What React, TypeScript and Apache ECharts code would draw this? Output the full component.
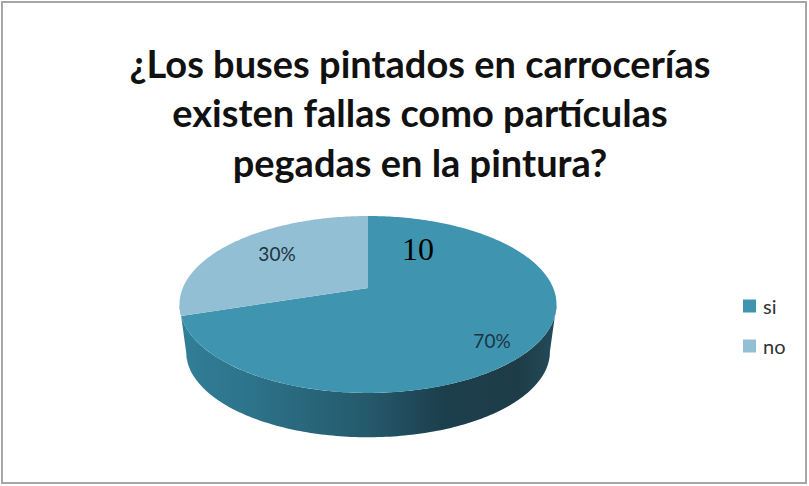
import React, { useEffect, useRef } from "react";
import * as echarts from "echarts";

const categories = ["si", "no"];
const shares = [70, 30];
const titleLines = [
  "¿Los buses pintados en carrocerías",
  "existen fallas como partículas",
  "pegadas en la pintura?",
];
const pageNumber = "10";

const FONT = "Lato, Carlito, sans-serif";
const topColors = ["#3f94b0", "#92bfd3"];
const labelPoints = [
  [492, 340],
  [277, 253],
];
const silhouette = [100.7, 259.3];

// Tilted disc: a circle seen through a mild perspective, with a thinner rim base.
const CX = 368;
const CY = 288;
const RX = 185.2;
const RY = 85.4;
const K = 0.186;
const BASE_CY = 336;
const BASE_SCALE = 0.965;

const rad = (deg: number) => (deg * Math.PI) / 180;

function project(deg: number, cy = CY, scale = 1): number[] {
  const u = Math.sin(rad(deg));
  const v = -Math.cos(rad(deg));
  const s = scale / (1 - K * v);
  return [CX + RX * u * s, cy + RY * v * s];
}

function arcPoints(from: number, to: number, cy = CY, scale = 1): number[][] {
  const steps = Math.max(2, Math.ceil(Math.abs(to - from)));
  const pts: number[][] = [];
  for (let i = 0; i <= steps; i++) {
    pts.push(project(from + ((to - from) * i) / steps, cy, scale));
  }
  return pts;
}

const rimFill = () =>
  new echarts.graphic.LinearGradient(
    180,
    0,
    556,
    0,
    [
      { offset: 0, color: "#317f98" },
      { offset: 0.2, color: "#2c7289" },
      { offset: 0.5, color: "#25596b" },
      { offset: 0.7, color: "#1c3f4d" },
      { offset: 0.9, color: "#1e3c48" },
      { offset: 1, color: "#234b5b" },
    ],
    true as any
  );

const total = shares.reduce((a, b) => a + b, 0);

function sliceRenderer(index: number) {
  const before = shares.slice(0, index).reduce((a, b) => a + b, 0);
  return (_params: any, api: any) => {
    const start = (before / total) * 360;
    const end = start + (api.value(0) / total) * 360;
    const children: any[] = [];
    const rimFrom = Math.max(start, silhouette[0]);
    const rimTo = Math.min(end, silhouette[1]);
    if (rimTo > rimFrom) {
      children.push({
        type: "polygon",
        shape: {
          points: [
            ...arcPoints(rimFrom, rimTo),
            ...arcPoints(rimTo, rimFrom, BASE_CY, BASE_SCALE),
          ],
        },
        style: { fill: rimFill() },
      });
    }
    children.push({
      type: "polygon",
      shape: { points: [[CX, CY], ...arcPoints(start, end)] },
      style: { fill: topColors[index] },
    });
    children.push({
      type: "text",
      x: labelPoints[index][0],
      y: labelPoints[index][1],
      style: {
        text: `${api.value(0)}%`,
        fill: "#1c3442",
        font: `19px ${FONT}`,
        align: "center",
        verticalAlign: "middle",
      },
    });
    return { type: "group", children };
  };
}

export default function App() {
  const ref = useRef<HTMLDivElement>(null);
  useEffect(() => {
    const chart = echarts.init(ref.current!, undefined, { renderer: "svg" });
    chart.setOption({
      animation: false,
      backgroundColor: "#ffffff",
      title: {
        text: titleLines.join("\n"),
        left: 415,
        top: 33,
        textAlign: "center",
        textStyle: {
          fontFamily: FONT,
          fontWeight: "bold",
          fontSize: 38,
          lineHeight: 49.5,
          color: "#111111",
        },
      },
      legend: {
        data: categories,
        orient: "vertical",
        left: 738,
        top: 291,
        itemWidth: 13,
        itemHeight: 13,
        itemGap: 20,
        icon: "rect",
        textStyle: { fontFamily: FONT, fontSize: 20, color: "#333333", padding: [0, 0, 0, 2] },
      },
      graphic: [
        {
          type: "rect",
          shape: { x: 2, y: 2, width: 804, height: 481 },
          style: { fill: "none", stroke: "#a6a6a6", lineWidth: 2 },
          silent: true,
        },
        {
          type: "text",
          x: 418,
          y: 249,
          z: 100,
          style: {
            text: pageNumber,
            fill: "#000000",
            font: '32px "Liberation Serif", serif',
            align: "center",
            verticalAlign: "middle",
          },
        },
      ],
      series: categories.map((name, i) => ({
        type: "custom",
        name,
        coordinateSystem: "none",
        itemStyle: { color: topColors[i] },
        data: [[shares[i]]],
        renderItem: sliceRenderer(i),
      })),
    });
    return () => chart.dispose();
  }, []);
  return <div ref={ref} style={{ position: "fixed", left: 0, top: 0, width: 809, height: 486 }} />;
}
